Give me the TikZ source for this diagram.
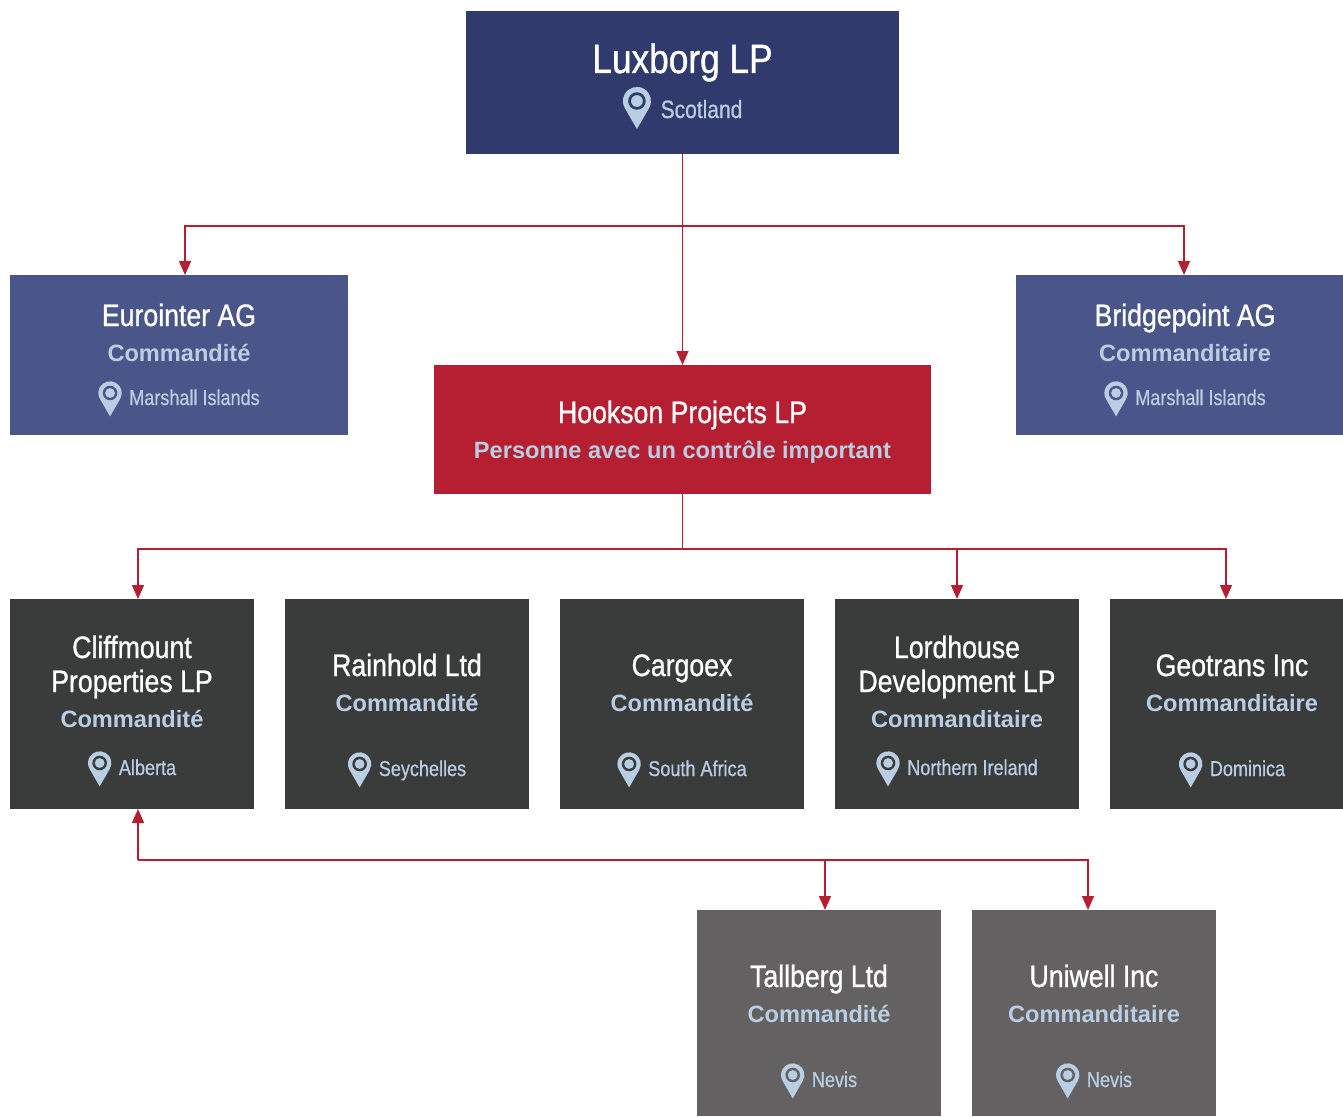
\documentclass[tikz,border=0pt]{standalone}
\usepackage{fontspec}
\setmainfont{Liberation Sans}
\newfontfamily\condf[FakeStretch=0.86,FakeBold=0.9]{Liberation Sans}
\newfontfamily\locf[FakeStretch=0.84,FakeBold=0.6]{Liberation Sans}
\usetikzlibrary{arrows.meta}
\definecolor{navy}{HTML}{303A6D}
\definecolor{slate}{HTML}{4A5689}
\definecolor{crim}{HTML}{B51F31}
\definecolor{dgray}{HTML}{3A3B3B}
\definecolor{mgray}{HTML}{636161}
\definecolor{pale}{HTML}{B9CEE3}
\tikzset{
  box/.style={fill=#1, draw=none, inner sep=0pt, outer sep=0pt},
  ttl/.style={text=white, font=\condf\fontsize{31}{34}\selectfont, anchor=base, inner sep=0pt},
  sub/.style={text=pale, font=\bfseries\fontsize{23.6}{27}\selectfont, anchor=base, inner sep=0pt},
  loc/.style={text=pale, font=\locf\fontsize{21.5}{24}\selectfont, anchor=base, inner sep=0pt},
  conn/.style={draw=crim, line width=1.5pt, -{Triangle[width=12pt,length=14pt]}},
  plain/.style={draw=crim, line width=1.5pt},
  pics/pin/.style={code={
    \fill[pale] (0pt,-23.4pt) -- (-30:11.7pt) arc[start angle=-30, end angle=210, radius=11.7pt] -- cycle;
    \fill[#1] (0pt,0pt) circle[radius=7.3pt];
    \fill[pale] (0pt,0pt) circle[radius=4.9pt];
  }}
}
\newcommand\locn[5]{%
  \node[loc] (#1) at (#2,#3) {\hspace*{31pt}#4};
  \pic at ([shift={(12pt,12pt)}]#1.base west) {pin=#5};}
\begin{document}
\begin{tikzpicture}[x=1pt,y=-1pt]
\useasboundingbox (0,0) rectangle (1343,1116);
\fill[white] (0,0) rectangle (1343,1116);

% boxes
\node[box=navy, minimum width=433pt, minimum height=143pt] (lux) at (682.5,82.5) {};
\node[box=slate, minimum width=338pt, minimum height=160pt] (euro) at (179,355) {};
\node[box=slate, minimum width=327pt, minimum height=160pt] (bridge) at (1179.5,355) {};
\node[box=crim, minimum width=497pt, minimum height=129pt] (hook) at (682.5,429.5) {};
\node[box=dgray, minimum width=244pt, minimum height=210pt] (cliff) at (132,704) {};
\node[box=dgray, minimum width=244pt, minimum height=210pt] (rain) at (407,704) {};
\node[box=dgray, minimum width=244pt, minimum height=210pt] (cargo) at (682,704) {};
\node[box=dgray, minimum width=244pt, minimum height=210pt] (lord) at (957,704) {};
\node[box=dgray, minimum width=233pt, minimum height=210pt] (geo) at (1226.5,704) {};
\node[box=mgray, minimum width=244pt, minimum height=206pt] (tall) at (819,1013) {};
\node[box=mgray, minimum width=244pt, minimum height=206pt] (uni) at (1094,1013) {};

% texts
\node[ttl, font=\condf\fontsize{41}{44}\selectfont] (luxt) at (682.5,73) {Luxborg LP};
\node[loc, font=\locf\fontsize{25}{28}\selectfont] (luxl) at (682.5,118) {\hspace*{38pt}Scotland};
\pic[scale=1.2] at ([shift={(14.5pt,17pt)}]luxl.base west) {pin=navy};

\node[ttl] (eurot) at (179,326) {Eurointer AG};
\node[sub] (euros) at (179,361) {Commandité};
\locn{eurol}{179}{405}{Marshall Islands}{slate}

\node[ttl] (bridget) at (1185,326) {Bridgepoint AG};
\node[sub] (bridges) at (1185,361) {Commanditaire};
\locn{bridgel}{1185}{405}{Marshall Islands}{slate}

\node[ttl] (hookt) at (682.5,423) {Hookson Projects LP};
\node[sub] (hooks) at (682.5,458) {Personne avec un contrôle important};

\node[ttl] (clifft) at (132,658) {Cliffmount};
\node[ttl] (clifft2) at (132,692) {Properties LP};
\node[sub] (cliffs) at (132,727) {Commandité};
\locn{cliffl}{132}{775}{Alberta}{dgray}

\node[ttl] (raint) at (407,676) {Rainhold Ltd};
\node[sub] (rains) at (407,711) {Commandité};
\locn{rainl}{407}{776}{Seychelles}{dgray}

\node[ttl] (cargot) at (682,676) {Cargoex};
\node[sub] (cargos) at (682,711) {Commandité};
\locn{cargol}{682}{776}{South Africa}{dgray}

\node[ttl] (lordt) at (957,658) {Lordhouse};
\node[ttl] (lordt2) at (957,692) {Development LP};
\node[sub] (lords) at (957,727) {Commanditaire};
\locn{lordl}{957}{775}{Northern Ireland}{dgray}

\node[ttl] (geot) at (1232,676) {Geotrans Inc};
\node[sub] (geos) at (1232,711) {Commanditaire};
\locn{geol}{1232}{776}{Dominica}{dgray}

\node[ttl] (tallt) at (819,987) {Tallberg Ltd};
\node[sub] (talls) at (819,1022) {Commandité};
\locn{talll}{819}{1087}{Nevis}{mgray}

\node[ttl] (unit) at (1094,987) {Uniwell Inc};
\node[sub] (unis) at (1094,1022) {Commanditaire};
\locn{unil}{1094}{1087}{Nevis}{mgray}

% connectors
\coordinate (b1) at (682.5,226);
\draw[conn] (lux.south) -- (hook.north);
\draw[conn] (b1) -| ([xshift=6pt]euro.north);
\draw[conn] (b1) -| ([xshift=4.5pt]bridge.north);

\coordinate (b2) at (682.5,549);
\draw[plain] (hook.south) -- (b2);
\draw[conn] (b2) -| ([xshift=6pt]cliff.north);
\draw[conn] (b2) -| (lord.north);
\draw[conn] (b2) -| ([xshift=-0.5pt]geo.north);

\coordinate (b3) at (138,860);
\draw[conn] (b3) -- ([xshift=6pt]cliff.south);
\draw[conn] (b3) -| ([xshift=6pt]tall.north);
\draw[conn] (b3) -| ([xshift=-6pt]uni.north);
\end{tikzpicture}
\end{document}
